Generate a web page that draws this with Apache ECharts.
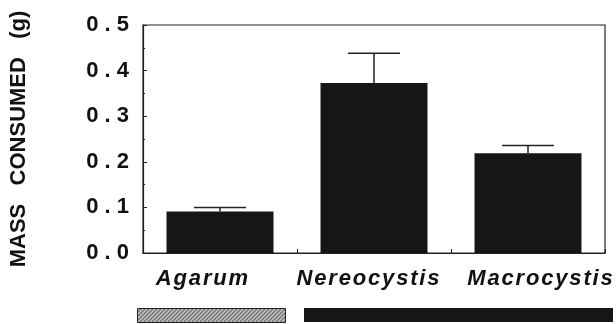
<!DOCTYPE html>
<html>
<head>
<meta charset="utf-8">
<script src="https://cdn.jsdelivr.net/npm/echarts@6/dist/echarts.min.js"></script>
<style>html,body{margin:0;padding:0;background:#fff}#c{width:616px;height:324px}</style>
</head>
<body>
<div id="c"></div>
<script>
var categories = ['Agarum', 'Nereocystis', 'Macrocystis'];
var massConsumed = [0.091, 0.373, 0.219];
var stdError = [0.009, 0.065, 0.017];
var yTickLabels = ['0.0', '0.1', '0.2', '0.3', '0.4', '0.5'];
var yAxisTitle = 'MASS   CONSUMED   (g)';

// hatch pattern for the grouping bar
var pc = document.createElement('canvas');
pc.width = 4; pc.height = 4;
var g = pc.getContext('2d');
g.fillStyle = '#c8c8c8'; g.fillRect(0, 0, 4, 4);
g.strokeStyle = '#1a1a1a'; g.lineWidth = 1;
g.beginPath();
g.moveTo(0, 4); g.lineTo(4, 0);
g.moveTo(-1, 1); g.lineTo(1, -1);
g.moveTo(3, 5); g.lineTo(5, 3);
g.stroke();

var labelShift = { Agarum: 'l', Nereocystis: 'm', Macrocystis: 'r' };
var labelBase = { fontSize: 22, fontWeight: 'bold', fontStyle: 'italic', fontFamily: 'Liberation Sans, Arial, sans-serif', color: '#111' };
var HAIR = '\u200A';

var chart = echarts.init(document.getElementById('c'), null, { renderer: 'canvas' });
chart.setOption({
  animation: false,
  backgroundColor: '#fff',
  grid: { left: 143, right: 11, top: 25, bottom: 71, show: true, borderColor: '#222', borderWidth: 1.2, backgroundColor: 'transparent' },
  xAxis: {
    type: 'category',
    data: categories,
    axisLine: { lineStyle: { color: '#222', width: 1.2 } },
    axisTick: { show: true, inside: true, length: 4, lineStyle: { color: '#222' } },
    axisLabel: {
      margin: 15,
      formatter: function (v) { return '{' + labelShift[v] + '|' + v.split('').join(HAIR) + '}'; },
      rich: {
        l: Object.assign({ padding: [0, 36, 0, 0] }, labelBase),
        m: Object.assign({ padding: [0, 12, 0, 0] }, labelBase),
        r: Object.assign({ padding: [0, 0, 0, 24] }, labelBase)
      }
    }
  },
  yAxis: {
    type: 'value',
    min: 0, max: 0.5, interval: 0.1,
    name: yAxisTitle,
    nameLocation: 'middle',
    nameRotate: 90,
    nameGap: 113,
    nameTextStyle: { fontSize: 22, fontWeight: 'bold', fontFamily: 'Liberation Sans, Arial, sans-serif', color: '#111' },
    splitLine: { show: false },
    axisLine: { show: true, lineStyle: { color: '#222', width: 1.2 } },
    axisTick: { show: true, inside: true, length: 4, lineStyle: { color: '#222' } },
    minorTick: { show: true, splitNumber: 2, length: 2, lineStyle: { color: '#222' } },
    axisLabel: {
      margin: 14,
      fontSize: 22,
      fontWeight: 'bold',
      fontFamily: 'Liberation Sans, Arial, sans-serif',
      color: '#111',
      formatter: function (v) {
        var s = yTickLabels[Math.round(v * 10)] || v.toFixed(1);
        return s.split('').join(' ');
      }
    }
  },
  series: [
    {
      type: 'bar',
      data: massConsumed,
      barWidth: 107,
      itemStyle: { color: '#161616' },
      z: 2
    },
    {
      type: 'custom',
      data: massConsumed.map(function (v, i) { return [i, v, v + stdError[i]]; }),
      z: 3,
      renderItem: function (params, api) {
        var x = api.value(0);
        var base = api.coord([x, api.value(1)]);
        var top = api.coord([x, api.value(2)]);
        var hw = 26;
        var st = { stroke: '#222', lineWidth: 1.5 };
        return {
          type: 'group',
          children: [
            { type: 'line', shape: { x1: base[0], y1: base[1], x2: top[0], y2: top[1] }, style: st },
            { type: 'line', shape: { x1: top[0] - hw, y1: top[1], x2: top[0] + hw, y2: top[1] }, style: st }
          ]
        };
      }
    }
  ],
  graphic: [
    { type: 'rect', left: 137, top: 308, shape: { width: 148, height: 14 }, style: { fill: { image: pc, repeat: 'repeat' }, stroke: '#222', lineWidth: 1 } },
    { type: 'rect', left: 304, top: 308, shape: { width: 309, height: 14 }, style: { fill: '#161616' } }
  ]
});
</script>
</body>
</html>
